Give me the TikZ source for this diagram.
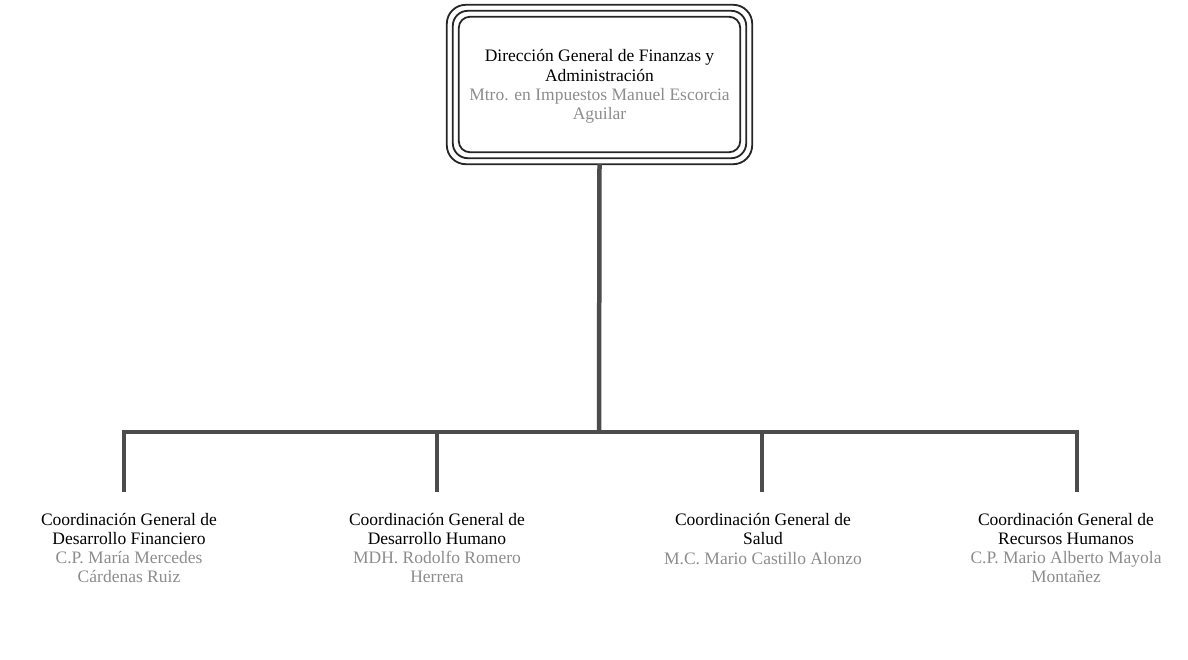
\documentclass[tikz,border=0pt]{standalone}
\usepackage{fontspec}
\setmainfont{Liberation Serif}
\begin{document}
\begin{tikzpicture}[x=1pt,y=-1pt,
  lbl/.style={align=center,font=\fontsize{17.5}{19.3}\selectfont,text=black,inner sep=0pt},
  bus/.style={draw=black!70,line width=4.5pt},
  frame/.style={draw=black!85,line width=1.8pt,rounded corners=#1},
]
\useasboundingbox (0,0) rectangle (1188,659);
% top box
\node[lbl,minimum width=281pt,minimum height=135pt] (top) at (599.5,84.5) {};
\node[lbl] (toptext) at (599.5,86.5)
  {Dirección General de Finanzas y\\Administración\\{\color{black!45}Mtro. en Impuestos Manuel Escorcia}\\{\color{black!45}Aguilar}};
\draw[frame=11pt] (top.north west) rectangle (top.south east);
\draw[frame=15pt] ([xshift=-6pt,yshift=6pt]top.north west) rectangle ([xshift=6pt,yshift=-6pt]top.south east);
\draw[frame=19pt] ([xshift=-12pt,yshift=12pt]top.north west) rectangle ([xshift=12pt,yshift=-12pt]top.south east);
\coordinate (topout) at ([yshift=-12pt]top.south);
% bus
\coordinate (j) at (599,432);
\coordinate (b1) at (124,432);
\coordinate (b2) at (437,432);
\coordinate (b3) at (762,432);
\coordinate (b4) at (1077,432);
\coordinate (d1) at (124,492);
\coordinate (d2) at (437,492);
\coordinate (d3) at (762,492);
\coordinate (d4) at (1077,492);
\draw[bus] (topout) -- (j);
\draw[bus,line join=miter] (d1) -- (b1) -- (b4) -- (d4);
\draw[bus] (b2) -- (d2);
\draw[bus] (b3) -- (d3);
% bottom nodes
\node[lbl] (c1) at (129,548) {Coordinación General de\\Desarrollo Financiero\\{\color{black!45}C.P. María Mercedes}\\{\color{black!45}Cárdenas Ruiz}};
\node[lbl] (c2) at (437,548) {Coordinación General de\\Desarrollo Humano\\{\color{black!45}MDH. Rodolfo Romero}\\{\color{black!45}Herrera}};
\node[lbl] (c3) at (763,539) {Coordinación General de\\Salud\\{\color{black!45}M.C. Mario Castillo Alonzo}};
\node[lbl] (c4) at (1066,548) {Coordinación General de\\Recursos Humanos\\{\color{black!45}C.P. Mario Alberto Mayola}\\{\color{black!45}Montañez}};
\end{tikzpicture}
\end{document}
